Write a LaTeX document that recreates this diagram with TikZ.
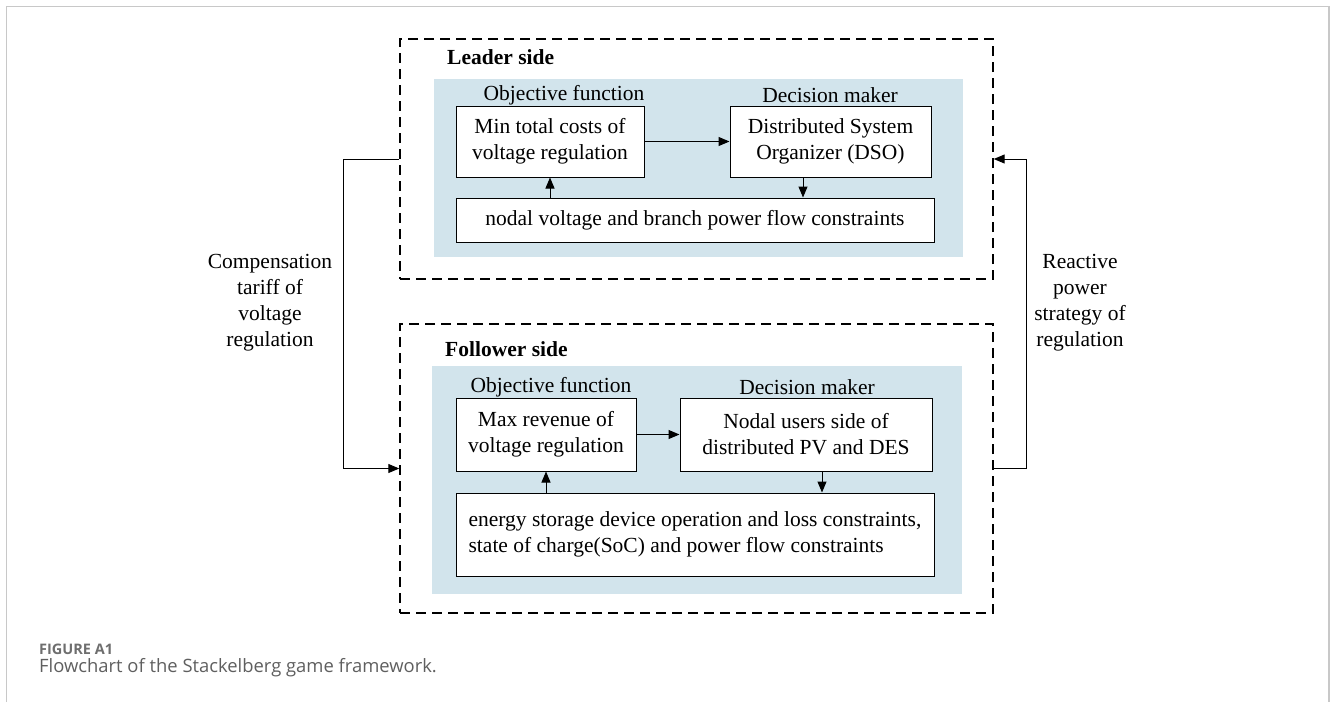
\documentclass[tikz,border=0pt]{standalone}
\usepackage{fontspec}
\setmainfont{Liberation Serif}
\newfontfamily\capfont{Open Sans}
\usetikzlibrary{arrows.meta}
\definecolor{panelblue}{RGB}{210,228,236}
\definecolor{framegray}{RGB}{200,200,200}
\definecolor{capgray}{RGB}{95,95,95}
\definecolor{capgrayb}{RGB}{110,110,110}
\begin{document}
\begin{tikzpicture}[x=1pt,y=-1pt,
  txt/.style={font=\fontsize{21.5}{26}\selectfont, align=center, inner sep=0pt},
  box/.style={draw=black, line width=1pt, fill=white, txt, minimum width=#1},
  sidebox/.style={draw=black, dash pattern=on 10pt off 6pt, line width=1.4pt, inner sep=0pt},
  panel/.style={fill=panelblue, draw=none, inner sep=0pt},
  arr/.style={-{Triangle[length=11pt,width=9pt]}, line width=1pt},
  head/.style={font=\fontsize{21.5}{26}\selectfont\bfseries, anchor=west, inner sep=0pt},
  lbl/.style={txt, font=\fontsize{21.5}{26}\selectfont}
]
\useasboundingbox (0,0) rectangle (1330,702);
\draw[framegray, line width=1.5pt] (6.5,702) -- (6.5,6.5) -- (1329,6.5) -- (1329,702);

% Leader side
\node[sidebox, minimum width=593pt, minimum height=240pt] (L) at (696.5,159) {};
\node[panel, minimum width=529pt, minimum height=178pt] (LP) at (698.5,168) {};
\node[head] (Lh) at (447,57) {Leader side};
\node[box=188pt, minimum height=71pt] (L1) at (550,141.5) {Min total costs of\\voltage regulation};
\node[box=201pt, minimum height=71pt] (L2) at (830.5,141.5) {Distributed System\\Organizer (DSO)};
\node[box=478pt, minimum height=44pt] (L3) at (695,220) {nodal voltage and branch power flow constraints};
\node[txt] (Lo) at (564,95) {Objective function};
\node[txt] (Ld) at (830,95) {Decision maker};
\draw[arr] (L1.east) -- (L2.west);
\draw[arr] (L3.north -| 550,0) -- (L1.south -| 550,0);
\draw[arr] (L2.south -| 803,0) -- (L3.north -| 803,0);

% Follower side
\node[sidebox, minimum width=593pt, minimum height=289pt] (F) at (696.5,468.5) {};
\node[panel, minimum width=530pt, minimum height=228pt] (FP) at (697,480) {};
\node[head] (Fh) at (445,349) {Follower side};
\node[box=180pt, minimum height=73pt] (F1) at (546,434.5) {Max revenue of\\voltage regulation};
\node[box=252pt, minimum height=73pt] (F2) at (806,434.5) {Nodal users side of\\distributed PV and DES};
\node[box=478pt, minimum height=83pt, align=left] (F3) at (695,534.5) {energy storage device operation and loss constraints,\\state of charge(SoC) and power flow constraints};
\node[txt] (Fo) at (551,387) {Objective function};
\node[txt] (Fd) at (807,387) {Decision maker};
\draw[arr] (F1.east) -- (F2.west);
\draw[arr] (F3.north -| 546,0) -- (F1.south -| 546,0);
\draw[arr] (F2.south -| 822,0) -- (F3.north -| 822,0);

% Connectors between sides
\coordinate (cl) at (343,0);
\coordinate (cr) at (1026,0);
\draw[arr] (L.west) -- (L.west -| cl) -- (F.west -| cl) -- (F.west);
\draw[arr] (F.east) -- (F.east -| cr) -- (L.east -| cr) -- (L.east);
\node[lbl] (CL) at (270,303) {Compensation\\tariff of\\voltage\\regulation};
\node[lbl] (CR) at (1080,303) {Reactive\\power\\strategy of\\regulation};

% Caption
\node[font=\capfont\fontsize{14.5}{16}\selectfont\bfseries, text=capgrayb, anchor=base west, inner sep=0pt] (cap1) at (39,654) {FIGURE A1};
\node[font=\capfont\fontsize{18.4}{21}\selectfont, text=capgray, anchor=base west, inner sep=0pt] (cap2) at (39,672) {Flowchart of the Stackelberg game framework.};
\end{tikzpicture}
\end{document}
